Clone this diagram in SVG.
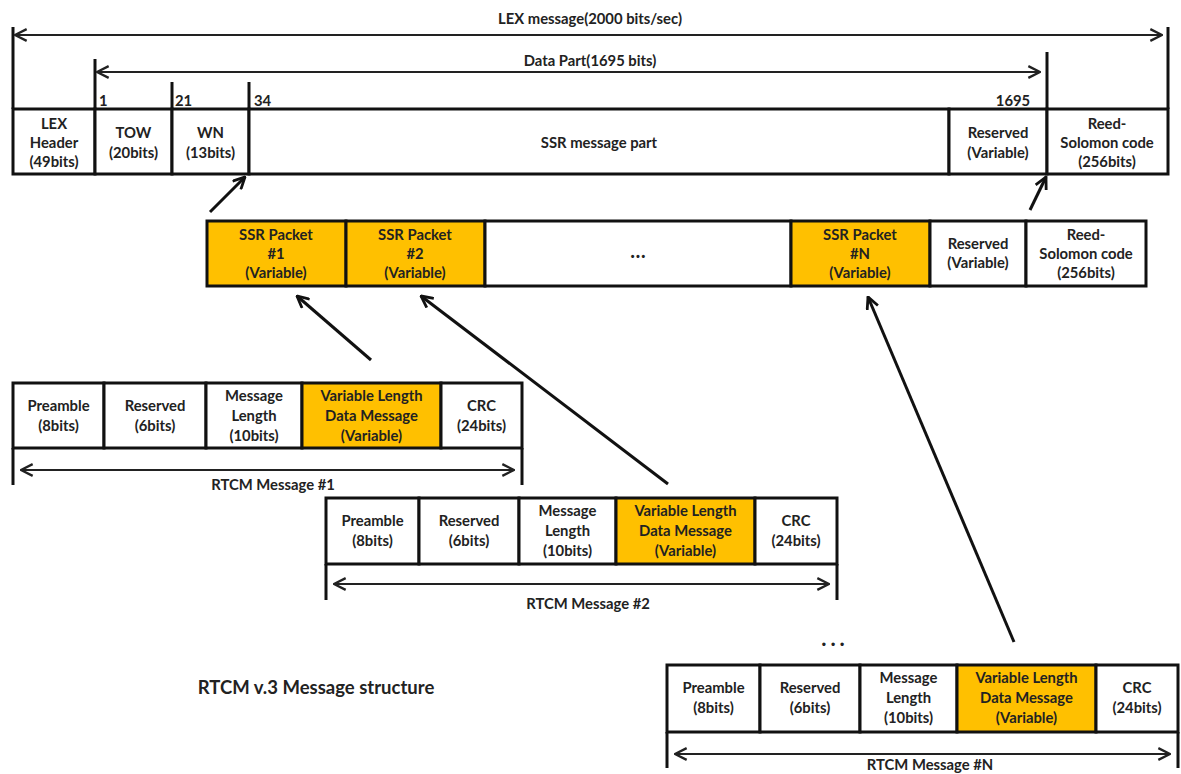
<svg xmlns="http://www.w3.org/2000/svg" width="1181" height="774" viewBox="0 0 1181 774">
<style>
  text{font-family:Lato,"Liberation Sans",sans-serif;font-weight:bold;font-size:14.8px;fill:#222;text-anchor:middle}
  .c{fill:#fff;stroke:#111;stroke-width:3}
  .y{fill:#FFC000;stroke:#111;stroke-width:3}
  .ln{stroke:#111;stroke-width:3;fill:none}
  .arr{stroke:#111;stroke-width:3;fill:none;marker-end:url(#ah)}
  .da{stroke:#222;stroke-width:2;fill:none;marker-start:url(#dh);marker-end:url(#dh)}
  .num{text-anchor:start}
</style>
<defs>
  <marker id="ah" viewBox="0 0 12 12" refX="11" refY="6" markerWidth="14" markerHeight="14" markerUnits="userSpaceOnUse" orient="auto">
    <path d="M1,1 L11,6 L1,11" fill="none" stroke="#111" stroke-width="2.4"/>
  </marker>
  <marker id="dh" viewBox="0 0 12 12" refX="11" refY="6" markerWidth="14" markerHeight="14" markerUnits="userSpaceOnUse" orient="auto-start-reverse">
    <path d="M1,1 L11,6 L1,11" fill="none" stroke="#222" stroke-width="2"/>
  </marker>
</defs>

<!-- Top LEX message dimensions -->
<g id="lex-dims">
  <line class="ln" x1="13" y1="27" x2="13" y2="109"/>
  <line class="ln" x1="1168" y1="27" x2="1168" y2="109"/>
  <line class="da" x1="15" y1="35" x2="1162" y2="35"/>
  <text x="590" y="24">LEX message(2000 bits/sec)</text>
  <line class="ln" x1="95" y1="59" x2="95" y2="109"/>
  <line class="ln" x1="1047" y1="52" x2="1047" y2="109"/>
  <line class="da" x1="97" y1="72" x2="1040" y2="72"/>
  <text x="590" y="66">Data Part(1695 bits)</text>
  <line class="ln" x1="172" y1="82" x2="172" y2="109"/>
  <line class="ln" x1="249" y1="82" x2="249" y2="109"/>
  <text class="num" x="99" y="106">1</text>
  <text class="num" x="175" y="106">21</text>
  <text class="num" x="254" y="106">34</text>
  <text x="1013" y="106">1695</text>
</g>

<!-- Top row -->
<g id="lex-header"><rect class="c" x="13" y="109" width="82" height="65"/><text x="54" y="129">LEX</text><text x="54" y="148">Header</text><text x="54" y="167">(49bits)</text></g>
<g id="tow"><rect class="c" x="95" y="109" width="77" height="65"/><text x="133.5" y="138">TOW</text><text x="133.5" y="158">(20bits)</text></g>
<g id="wn"><rect class="c" x="172" y="109" width="77" height="65"/><text x="210.5" y="138">WN</text><text x="210.5" y="158">(13bits)</text></g>
<g id="ssr-part"><rect class="c" x="249" y="109" width="700" height="65"/><text x="599" y="148">SSR message part</text></g>
<g id="top-reserved"><rect class="c" x="949" y="109" width="98" height="65"/><text x="998" y="138">Reserved</text><text x="998" y="158">(Variable)</text></g>
<g id="top-rs"><rect class="c" x="1047" y="109" width="121" height="65"/><text x="1107" y="129">Reed-</text><text x="1107" y="148">Solomon code</text><text x="1107" y="167">(256bits)</text></g>

<!-- SSR packet row -->
<g id="ssr1"><rect class="y" x="207" y="221" width="139" height="65"/><text x="276" y="240">SSR Packet</text><text x="276" y="259">#1</text><text x="276" y="278">(Variable)</text></g>
<g id="ssr2"><rect class="y" x="346" y="221" width="139" height="65"/><text x="415" y="240">SSR Packet</text><text x="415" y="259">#2</text><text x="415" y="278">(Variable)</text></g>
<g id="ssr-dots"><rect class="c" x="485" y="221" width="306" height="65"/><text x="638" y="258" style="font-size:20px">…</text></g>
<g id="ssrN"><rect class="y" x="791" y="221" width="139" height="65"/><text x="860" y="240">SSR Packet</text><text x="860" y="259">#N</text><text x="860" y="278">(Variable)</text></g>
<g id="ssr-reserved"><rect class="c" x="930" y="221" width="96" height="65"/><text x="978" y="249">Reserved</text><text x="978" y="268">(Variable)</text></g>
<g id="ssr-rs"><rect class="c" x="1026" y="221" width="120" height="65"/><text x="1086" y="240">Reed-</text><text x="1086" y="259">Solomon code</text><text x="1086" y="278">(256bits)</text></g>

<!-- RTCM message #1 -->
<g id="rtcm1">
  <rect class="c" x="13" y="383" width="91" height="65"/><text x="58.5" y="411">Preamble</text><text x="58.5" y="431">(8bits)</text>
  <rect class="c" x="104" y="383" width="102" height="65"/><text x="155" y="411">Reserved</text><text x="155" y="431">(6bits)</text>
  <rect class="c" x="206" y="383" width="96" height="65"/><text x="254" y="401">Message</text><text x="254" y="421">Length</text><text x="254" y="441">(10bits)</text>
  <rect class="y" x="302" y="383" width="139" height="65"/><text x="371.5" y="401">Variable Length</text><text x="371.5" y="421">Data Message</text><text x="371.5" y="441">(Variable)</text>
  <rect class="c" x="441" y="383" width="81" height="65"/><text x="481.5" y="411">CRC</text><text x="481.5" y="431">(24bits)</text>
  <line class="ln" x1="13" y1="448" x2="13" y2="485"/>
  <line class="ln" x1="522" y1="448" x2="522" y2="485"/>
  <line class="da" x1="21" y1="470" x2="514" y2="470"/>
  <text x="273" y="490">RTCM Message #1</text>
</g>

<!-- RTCM message #2 -->
<g id="rtcm2">
  <rect class="c" x="326" y="498" width="93" height="66"/><text x="372.5" y="526">Preamble</text><text x="372.5" y="546">(8bits)</text>
  <rect class="c" x="419" y="498" width="100" height="66"/><text x="469" y="526">Reserved</text><text x="469" y="546">(6bits)</text>
  <rect class="c" x="519" y="498" width="97" height="66"/><text x="567.5" y="516">Message</text><text x="567.5" y="536">Length</text><text x="567.5" y="556">(10bits)</text>
  <rect class="y" x="616" y="498" width="139" height="66"/><text x="685.5" y="516">Variable Length</text><text x="685.5" y="536">Data Message</text><text x="685.5" y="556">(Variable)</text>
  <rect class="c" x="755" y="498" width="82" height="66"/><text x="796" y="526">CRC</text><text x="796" y="546">(24bits)</text>
  <line class="ln" x1="326" y1="564" x2="326" y2="600"/>
  <line class="ln" x1="837" y1="564" x2="837" y2="600"/>
  <line class="da" x1="334" y1="584" x2="829" y2="584"/>
  <text x="588" y="609">RTCM Message #2</text>
</g>

<!-- RTCM message #N -->
<g id="rtcmN">
  <rect class="c" x="667" y="665" width="93" height="67"/><text x="713.5" y="693">Preamble</text><text x="713.5" y="713">(8bits)</text>
  <rect class="c" x="760" y="665" width="100" height="67"/><text x="810" y="693">Reserved</text><text x="810" y="713">(6bits)</text>
  <rect class="c" x="860" y="665" width="97" height="67"/><text x="908.5" y="683">Message</text><text x="908.5" y="703">Length</text><text x="908.5" y="723">(10bits)</text>
  <rect class="y" x="957" y="665" width="139" height="67"/><text x="1026.5" y="683">Variable Length</text><text x="1026.5" y="703">Data Message</text><text x="1026.5" y="723">(Variable)</text>
  <rect class="c" x="1096" y="665" width="82" height="67"/><text x="1137" y="693">CRC</text><text x="1137" y="713">(24bits)</text>
  <line class="ln" x1="667" y1="732" x2="667" y2="768"/>
  <line class="ln" x1="1178" y1="732" x2="1178" y2="768"/>
  <line class="da" x1="675" y1="754" x2="1170" y2="754"/>
  <text x="930" y="770">RTCM Message #N</text>
</g>

<g id="labels">
  <text x="835" y="646" style="font-size:22px;letter-spacing:4px">...</text>
  <text x="316" y="694" style="font-size:18.5px">RTCM v.3  Message structure</text>
</g>

<!-- Connectors -->
<g id="connectors">
  <line class="arr" x1="210" y1="212" x2="245" y2="177"/>
  <line class="arr" x1="1030" y1="210" x2="1046" y2="177"/>
  <line class="arr" x1="371" y1="360" x2="297" y2="296"/>
  <line class="arr" x1="668" y1="484" x2="421" y2="296"/>
  <line class="arr" x1="1014" y1="642" x2="868" y2="297"/>
</g>
</svg>
